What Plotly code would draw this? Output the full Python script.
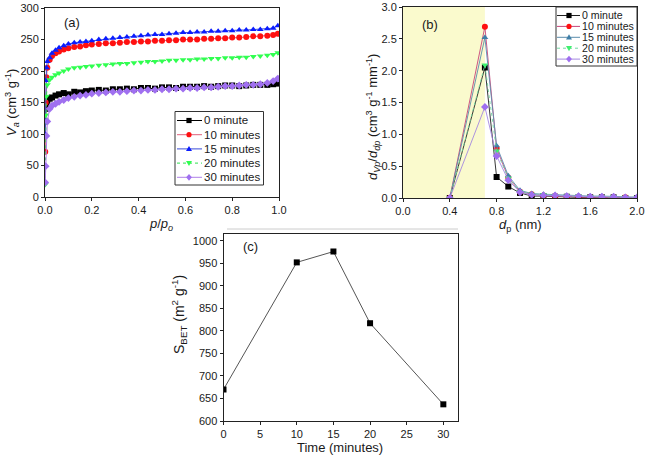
import plotly.graph_objects as go

W, H = 646, 455

# ---------------- data (a) ----------------
p_rel = [0.001, 0.003, 0.006, 0.01, 0.02, 0.03, 0.045, 0.06, 0.08, 0.1, 0.125, 0.15, 0.175, 0.2,
         0.23, 0.26, 0.29, 0.32, 0.35, 0.38, 0.41, 0.44, 0.47, 0.5, 0.53, 0.56, 0.59, 0.62, 0.65,
         0.68, 0.71, 0.74, 0.77, 0.8, 0.83, 0.86, 0.89, 0.92, 0.95, 0.975, 0.995]
va_0 = [120, 140, 148, 153, 156, 158, 161, 163, 165, 163, 167, 166, 168, 169, 170, 169, 171, 171,
        172, 171, 173, 173, 172, 174, 174, 173, 175, 175, 175, 176, 175, 176, 177, 177, 176, 177,
        178, 178, 178, 179, 180]
va_10 = [72, 150, 190, 205, 218, 224, 228, 231, 234, 236, 238, 239, 241, 242, 243, 244, 244, 245,
         246, 246, 247, 247, 248, 248, 249, 249, 250, 250, 250, 251, 251, 252, 252, 253, 253, 254,
         255, 255, 256, 257, 259]
va_15 = [99, 185, 205, 215, 221, 228, 233, 237, 240, 243, 245, 246, 247, 248, 250, 251, 252, 253,
         254, 255, 256, 257, 258, 258, 259, 260, 261, 261, 262, 262, 263, 263, 264, 264, 265, 265,
         266, 266, 267, 268, 272]
va_20 = [20, 130, 160, 178, 186, 190, 194, 197, 200, 203, 205, 206, 207, 208, 209, 210, 211, 212,
         212, 213, 214, 215, 215, 216, 217, 217, 218, 218, 219, 219, 220, 220, 221, 221, 222, 222,
         223, 224, 225, 226, 229]
va_30 = [23, 49, 97, 120, 140, 145, 148, 151, 154, 157, 159, 161, 162, 164, 165, 166, 167, 167,
         168, 169, 169, 170, 170, 171, 171, 172, 172, 173, 173, 174, 174, 175, 176, 176, 177, 178,
         178, 179, 181, 184, 188]

# ---------------- data (b) ----------------
dp = [0.4, 0.7, 0.8, 0.9, 1.0, 1.1, 1.2, 1.3, 1.4, 1.5, 1.6, 1.7, 1.8, 1.9, 2.0]
psd_0 = [0, 2.05, 0.33, 0.18, 0.08, 0.03, 0.03, 0.02, 0.02, 0.01, 0.01, 0.01, 0.01, 0.0, 0.0]
psd_10 = [0, 2.69, 0.78, 0.32, 0.10, 0.06, 0.04, 0.03, 0.02, 0.02, 0.01, 0.01, 0.01, 0.01, 0.0]
psd_15 = [0, 2.52, 0.82, 0.35, 0.12, 0.07, 0.06, 0.05, 0.04, 0.04, 0.03, 0.03, 0.03, 0.02, 0.01]
psd_20 = [0, 2.09, 0.74, 0.31, 0.10, 0.06, 0.05, 0.04, 0.03, 0.03, 0.02, 0.02, 0.02, 0.01, 0.01]
psd_30 = [0, 1.43, 0.66, 0.28, 0.09, 0.05, 0.04, 0.04, 0.03, 0.03, 0.02, 0.02, 0.02, 0.01, 0.01]

# ---------------- data (c) ----------------
time_min = [0, 10, 15, 20, 30]
s_bet = [670, 952, 976, 817, 637]

names = ["0 minute", "10 minutes", "15 minutes", "20 minutes", "30 minutes"]


def px(x):
    return x / W


def py(y):
    return 1 - y / H


FONT = "Liberation Sans, Arial, sans-serif"
TXT = "#1a1a1a"

fig = go.Figure()

# (a) traces
a_style = [
    ("#000000", "#000000", "square", "solid"),
    ("#ff1010", "#e0607a", "circle", "solid"),
    ("#0a1cff", "#3a4cd8", "triangle-up", "solid"),
    ("#30ff50", "#30e050", "triangle-down", "dot"),
    ("#a070f0", "#b080e8", "diamond", "solid"),
]
a_vals = [va_0, va_10, va_15, va_20, va_30]
for nm, vals, (mc, lc, sym, dash) in zip(names, a_vals, a_style):
    fig.add_trace(go.Scatter(
        x=p_rel, y=vals, name=nm, mode="lines+markers", xaxis="x", yaxis="y", showlegend=False,
        line=dict(color=lc, width=1, dash=dash),
        marker=dict(color=mc, symbol=sym, size=6, line=dict(width=0)),
    ))

# (b) traces
b_style = [
    ("#000000", "#202020", "square", "solid"),
    ("#ff1010", "#c84478", "circle", "solid"),
    ("#3f7fa8", "#5a8cac", "triangle-up", "solid"),
    ("#40f070", "#70d8a0", "triangle-down", "dot"),
    ("#9f6fef", "#a488e0", "diamond", "solid"),
]
b_vals = [psd_0, psd_10, psd_15, psd_20, psd_30]
for nm, vals, (mc, lc, sym, dash) in zip(names, b_vals, b_style):
    fig.add_trace(go.Scatter(
        x=dp, y=vals, name=nm, mode="lines+markers", xaxis="x2", yaxis="y2", showlegend=False,
        line=dict(color=lc, width=0.9, dash=dash),
        marker=dict(color=mc, symbol=sym, size=6, line=dict(width=0)),
    ))

# (c) trace
fig.add_trace(go.Scatter(
    x=time_min, y=s_bet, mode="lines+markers", xaxis="x3", yaxis="y3", showlegend=False,
    line=dict(color="#555555", width=1),
    marker=dict(color="#000000", symbol="square", size=6),
))

axis_common = dict(showline=True, linecolor="#222", linewidth=1, mirror=True, ticks="outside",
                   ticklen=3, tickcolor="#222", showgrid=False, zeroline=False, automargin=False,
                   tickfont=dict(family=FONT, size=11, color=TXT))

shapes = [
    dict(type="rect", xref="x2", yref="y2", x0=0, x1=0.7, y0=0, y1=3.0, layer="below",
         fillcolor="#fafacd", line=dict(width=0)),
    dict(type="line", xref="paper", yref="paper", x0=px(227), x1=px(458), y0=py(229), y1=py(229),
         line=dict(color="#cccccc", width=1)),
]
annotations = []


def marker_shape(sym, cx, cy, r, color):
    base = dict(xref="paper", yref="paper", fillcolor=color, line=dict(width=0), layer="above")
    if sym == "square":
        return dict(type="rect", x0=px(cx - r), x1=px(cx + r), y0=py(cy + r), y1=py(cy - r), **base)
    if sym == "circle":
        return dict(type="circle", x0=px(cx - r), x1=px(cx + r), y0=py(cy + r), y1=py(cy - r), **base)
    if sym == "triangle-up":
        pts = [(cx, cy - r * 1.15), (cx - r * 1.15, cy + r * 0.85), (cx + r * 1.15, cy + r * 0.85)]
    elif sym == "triangle-down":
        pts = [(cx, cy + r * 1.15), (cx - r * 1.15, cy - r * 0.85), (cx + r * 1.15, cy - r * 0.85)]
    else:
        pts = [(cx, cy - r * 1.3), (cx + r * 1.1, cy), (cx, cy + r * 1.3), (cx - r * 1.1, cy)]
    path = "M " + " L ".join(f"{px(x):.5f},{py(y):.5f}" for x, y in pts) + " Z"
    return dict(type="path", path=path, **base)


def build_legend(box, line_x, mark_x, text_x, y0, dy, fsize, styles):
    x0, x1, yt, yb = box
    shapes.append(dict(type="rect", xref="paper", yref="paper", x0=px(x0), x1=px(x1), y0=py(yb),
                       y1=py(yt), fillcolor="white", line=dict(color="#333", width=1), layer="above"))
    for i, (nm, (mc, lc, sym, dash)) in enumerate(zip(names, styles)):
        y = y0 + i * dy
        shapes.append(dict(type="line", xref="paper", yref="paper", x0=px(line_x[0]), x1=px(line_x[1]),
                           y0=py(y), y1=py(y), line=dict(color=lc, width=1, dash=dash), layer="above"))
        shapes.append(marker_shape(sym, mark_x, y, 2.6, mc))
        annotations.append(dict(text=nm, x=px(text_x), y=py(y), xref="paper", yref="paper",
                                showarrow=False, xanchor="left", yanchor="middle", borderpad=0,
                                font=dict(family=FONT, size=fsize, color=TXT)))


build_legend((175, 263.5, 111.5, 185), (177, 202), 189, 203, 120.5, 14.2, 11.5, a_style)
build_legend((556, 637, 7, 66), (557, 580), 569, 580.5, 15.5, 10.9, 10.6, b_style)

fig.update_layout(
    width=W, height=H, margin=dict(l=0, r=0, t=0, b=0, autoexpand=False),
    paper_bgcolor="white", plot_bgcolor="white",
    font=dict(family=FONT, color=TXT), showlegend=False,
    xaxis=dict(domain=[px(45), px(279)], range=[0, 1.0], tickvals=[0, 0.2, 0.4, 0.6, 0.8, 1.0],
               tickformat=".1f", anchor="y", **axis_common),
    yaxis=dict(domain=[py(197), py(8)], range=[0, 300], tickvals=[0, 50, 100, 150, 200, 250, 300],
               anchor="x", **axis_common),
    xaxis2=dict(domain=[px(403), px(637)], range=[0, 2.0], tickvals=[0, 0.4, 0.8, 1.2, 1.6, 2.0],
                tickformat=".1f", anchor="y2", **axis_common),
    yaxis2=dict(domain=[py(198), py(7)], range=[0, 3.0], tickvals=[0, 0.5, 1.0, 1.5, 2.0, 2.5, 3.0],
                tickformat=".1f", anchor="x2", **axis_common),
    xaxis3=dict(domain=[px(223.5), px(458)], range=[0, 32], tickvals=[0, 5, 10, 15, 20, 25, 30],
                anchor="y3", **axis_common),
    yaxis3=dict(domain=[py(421), py(234)], range=[600, 1015],
                tickvals=[600, 650, 700, 750, 800, 850, 900, 950, 1000], anchor="x3", **axis_common),
    shapes=shapes,
)

ann = [
    ("(a)", 72, 22, 13, 0),
    ("(b)", 430, 24, 13, 0),
    ("(c)", 250, 247, 13, 0),
    ("<i>V</i><sub><i>a</i></sub> (cm<sup>3</sup> g<sup>-1</sup>)", 12, 103, 13, -90),
    ("<i>p</i>/<i>p</i><sub><i>o</i></sub>", 161, 224, 13, 0),
    ("<i>d</i><sub><i>Vp</i></sub>/<i>d</i><sub><i>dp</i></sub> (cm<sup>3</sup> g<sup>-1</sup> mm<sup>-1</sup>)",
     373, 117, 13, -90),
    ("<i>d</i><sub>p</sub> (nm)", 520, 225, 13, 0),
    ("S<sub>BET</sub> (m<sup>2</sup> g<sup>-1</sup>)", 179, 315, 14, -90),
    ("Time (minutes)", 340, 447, 13, 0),
]
for text, x, y, size, ang in ann:
    annotations.append(dict(text=text, x=px(x), y=py(y), xref="paper", yref="paper", showarrow=False,
                            xanchor="center", yanchor="middle", textangle=ang,
                            font=dict(family=FONT, size=size, color=TXT)))

fig.update_layout(annotations=annotations)

fig.write_html("out.html", config={"displayModeBar": False},
               post_script="document.body.style.margin='0px';")
